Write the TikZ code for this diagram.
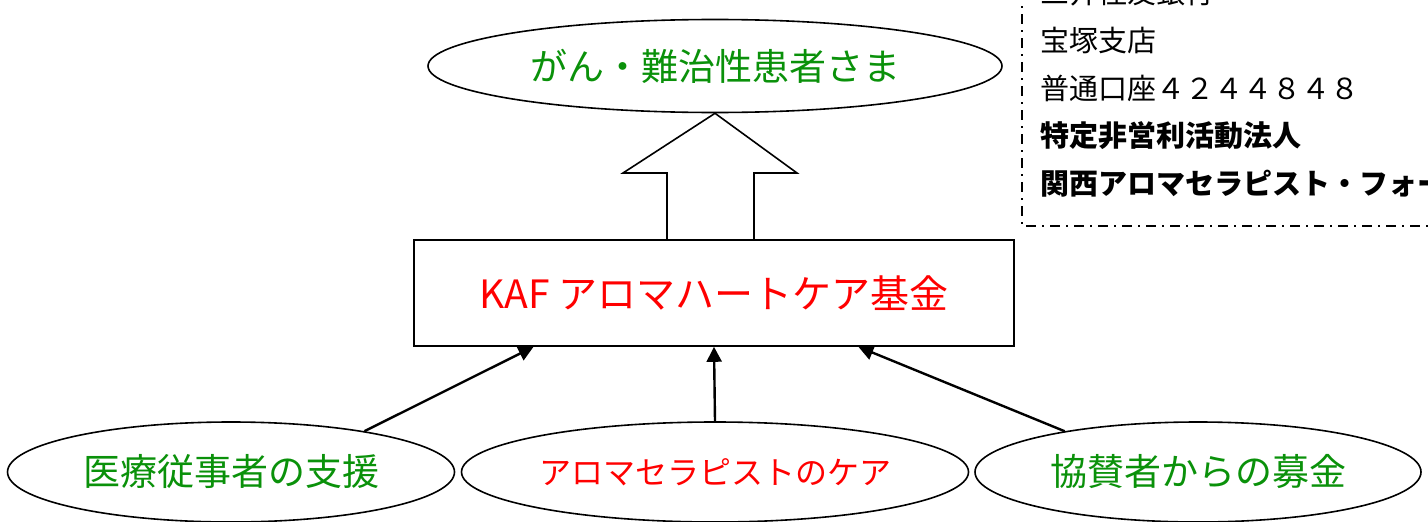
\documentclass[tikz,border=0pt]{standalone}
\usepackage{fontspec}
\setmainfont{Noto Sans CJK JP}
\usetikzlibrary{shapes.geometric,arrows.meta,calc}
\definecolor{kafgreen}{RGB}{10,145,10}
\definecolor{kafred}{RGB}{255,0,0}
\begin{document}
\begin{tikzpicture}[x=1pt,y=-1pt]
\tikzstyle{oval}=[ellipse,draw,line width=1.6pt,inner sep=0pt,minimum height=100pt]
\tikzstyle{fund}=[rectangle,draw,line width=1.6pt,minimum width=600pt,minimum height=106pt]
\tikzstyle{feed}=[line width=2.4pt,-{Triangle[length=15pt,width=15pt]}]
\tikzstyle{bank}=[anchor=west,inner sep=0pt,font=\fontsize{29}{29}\selectfont]
\clip (0,0) rectangle (1428,522);
% target
\node[oval,minimum width=574pt,minimum height=93pt,text=kafgreen,font=\fontsize{37}{37}\selectfont] (patients) at (715,66) {がん・難治性患者さま};
% fund
\node[fund,text=kafred,font=\fontsize{39}{39}\selectfont] (kaf) at (714,293) {KAF アロマハートケア基金};
% hollow arrow up
\draw[line width=1.6pt] (kaf.north -| 667,0) -- (667,173) -- (623,173) -- (patients.south)
  -- (797,173) -- (754,173) -- (kaf.north -| 754,0);
% sources
\node[oval,minimum width=447pt,text=kafgreen,font=\fontsize{37}{37}\selectfont] (staff) at (231,472) {医療従事者の支援};
\node[oval,minimum width=507pt,text=kafred,font=\fontsize{32}{32}\selectfont] (care) at (715,472) {アロマセラピストのケア};
\node[oval,minimum width=446pt,text=kafgreen,font=\fontsize{37}{37}\selectfont] (donors) at (1198,472) {協賛者からの募金};
\draw[feed] (staff.17) -- ($(kaf.south west)!0.2!(kaf.south east)$);
\draw[feed] (care.north) -- (kaf.south);
\draw[feed] (donors.163) -- ($(kaf.south west)!0.74!(kaf.south east)$);
% bank account
\draw[line width=1.6pt,dash pattern=on 10pt off 6pt on 2pt off 6pt] (1022,-10) -- (1022,226) -- (1440,226);
\node[bank] (b1) at (1040,-7) {三井住友銀行};
\node[bank] (b2) at (1040,41) {宝塚支店};
\node[bank] (b3) at (1040,88) {普通口座４２４４８４８};
\node[bank,font=\fontsize{29}{29}\selectfont\bfseries] (b4) at (1040,136) {特定非営利活動法人};
\node[bank,font=\fontsize{29}{29}\selectfont\bfseries] (b5) at (1040,184) {関西アロマセラピスト・フォーラム};
\end{tikzpicture}
\end{document}
